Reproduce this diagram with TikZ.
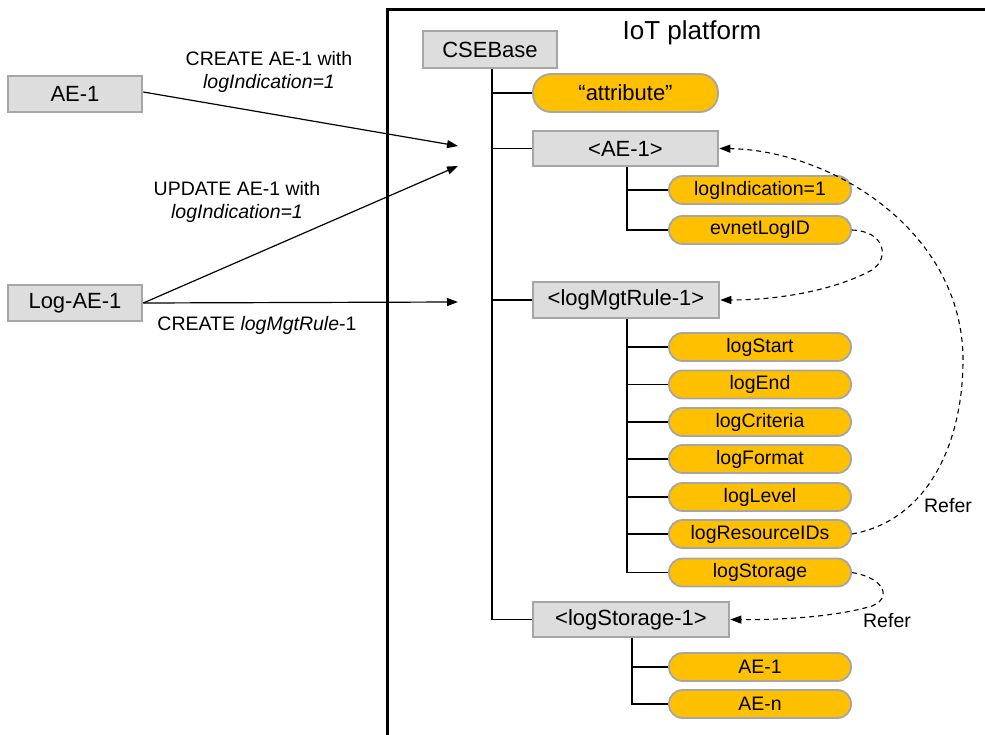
\documentclass[tikz,border=0pt]{standalone}
\usepackage{fontspec}
\setmainfont{Liberation Sans}
\usetikzlibrary{arrows.meta}
\definecolor{boxfill}{HTML}{DDDDDD}
\definecolor{boxline}{HTML}{A6A6A6}
\definecolor{gold}{HTML}{FFC000}
\tikzset{
  graybox/.style={draw=boxline, fill=boxfill, line width=2.6pt, inner sep=0pt,
    font=\fontsize{22}{24}\selectfont},
  pill/.style={draw=boxline, fill=gold, line width=1.8pt, inner sep=0pt,
    rounded corners=13.5pt, minimum width=182pt, minimum height=28pt,
    font=\fontsize{19.5}{22}\selectfont},
  lbl/.style={align=center, inner sep=0pt, font=\fontsize{19.5}{23.5}\selectfont},
  tree/.style={line width=1.3pt},
  msg/.style={line width=1.2pt, -{Triangle[length=11pt,width=8pt]}},
  refer/.style={line width=1.1pt, dash pattern=on 5pt off 4pt,
    -{Triangle[length=11pt,width=8pt]}},
}
\begin{document}
\begin{tikzpicture}[x=1pt, y=-1pt]
\useasboundingbox (0,0) rectangle (985,735);

% platform frame
\draw[line width=3pt] (387,735) -- (387,10) -- (987,10);
\node[font=\fontsize{26}{28}\selectfont, inner sep=0pt] (title) at (692,33) {IoT platform};

% applications outside the platform
\node[graybox, minimum width=134pt, minimum height=36pt] (ae1) at (75,94) {AE-1};
\node[graybox, minimum width=134pt, minimum height=36pt] (logae) at (75,303) {Log-AE-1};

% resource tree
\node[graybox, minimum width=134pt, minimum height=37pt] (cse) at (490,49.5) {CSEBase};
\node[pill, minimum width=185pt, minimum height=38pt, rounded corners=18pt,
      font=\fontsize{22}{24}\selectfont] (attr) at (625.5,93) {“attribute”};
\node[graybox, minimum width=185pt, minimum height=35pt] (aer) at (625.5,148.5) {<AE-1>};
\node[pill] (indic) at (760,190) {logIndication=1};
\node[pill] (evlog) at (760,230) {evnetLogID};
\node[graybox, minimum width=186pt, minimum height=36pt] (rule) at (626,300) {<logMgtRule-1>};
\node[pill] (lstart) at (760,347) {logStart};
\node[pill] (lend) at (760,384.5) {logEnd};
\node[pill] (lcrit) at (760,422) {logCriteria};
\node[pill] (lfmt) at (760,459) {logFormat};
\node[pill] (llev) at (760,497) {logLevel};
\node[pill] (lres) at (760,534) {logResourceIDs};
\node[pill] (lsto) at (760,572.5) {logStorage};
\node[graybox, minimum width=196pt, minimum height=35pt] (store) at (631,619.5) {<logStorage-1>};
\node[pill] (sae1) at (760,667) {AE-1};
\node[pill] (saen) at (760,704) {AE-n};

% tree branches
\foreach \c in {attr,aer,rule,store}
  \draw[tree, line width=1.5pt] ([xshift=2pt]cse.south) |- (\c.west);
\foreach \c in {indic,evlog}
  \draw[tree] ([xshift=1.5pt]aer.south) |- (\c.west);
\foreach \c in {lstart,lend,lcrit,lfmt,llev,lres,lsto}
  \draw[tree, line width=1.7pt] ([xshift=1pt]rule.south) |- (\c.west);
\foreach \c in {sae1,saen}
  \draw[tree] ([xshift=1pt]store.south) |- (\c.west);

% requests into the platform
\coordinate (in1) at (458,146);
\coordinate (in2) at (458,166);
\coordinate (in3) at (458,302);
\draw[msg] ([yshift=2pt]ae1.east) -- (in1);
\draw[msg] (logae.east) -- (in2);
\draw[msg] (logae.east) -- (in3);
\node[lbl] (l1) at (269,72) {CREATE AE-1 with\\\textit{logIndication=1}};
\node[lbl] (l2) at (237,202) {UPDATE AE-1 with\\\textit{logIndication=1}};
\node[lbl] (l3) at (257,325) {CREATE \textit{logMgtRule}-1};

% references between resources
\draw[refer] (evlog.east) .. controls (885,231) and (890,258) .. (872,270)
  .. controls (835,290) and (780,300) .. (rule.east);
\draw[refer] (lres.east) .. controls (930,520) and (963,440) .. (963,360)
  .. controls (963,230) and (830,150) .. (aer.east);
\draw[refer] (lsto.east) .. controls (885,578) and (892,598) .. (872,606)
  .. controls (835,617) and (780,620) .. (store.east);
\node[lbl] (r1) at (948,506) {Refer};
\node[lbl] (r2) at (887,621) {Refer};
\end{tikzpicture}
\end{document}
